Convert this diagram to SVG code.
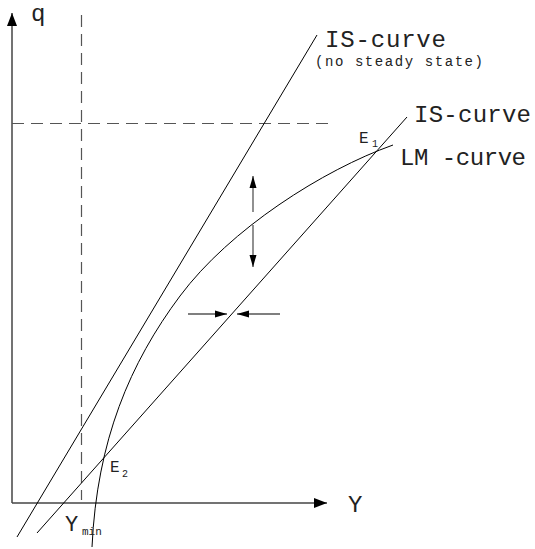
<svg xmlns="http://www.w3.org/2000/svg" width="535" height="549" viewBox="0 0 535 549">
<style>
.ax{stroke:#444;stroke-width:1.5;fill:none}
.dash{stroke:#555;stroke-width:1.2;stroke-dasharray:12 7;fill:none}
.ln{stroke:#000;stroke-width:1;fill:none}
.ar{stroke:#555;stroke-width:1.3;fill:none}
text{font-family:"Liberation Mono","Courier New",monospace;fill:#222}
</style>
<defs>
<marker id="ah" markerWidth="12" markerHeight="8" refX="12" refY="4" orient="auto" markerUnits="userSpaceOnUse"><path d="M0,0.5 L12,4 L0,7.5 Z" fill="#000"/></marker>
<marker id="axh" markerWidth="13" markerHeight="10" refX="13" refY="5" orient="auto" markerUnits="userSpaceOnUse"><path d="M0,0 L13,5 L0,10 Z" fill="#000"/></marker>
</defs>
<g id="axes">
<line class="ax" x1="12" y1="503" x2="12" y2="13" marker-end="url(#axh)"/>
<line class="ax" x1="12" y1="503" x2="327" y2="503" marker-end="url(#axh)"/>
</g>
<g id="guides">
<line class="dash" x1="81.5" y1="15" x2="81.5" y2="500"/>
<line class="dash" x1="12" y1="123.5" x2="330" y2="123.5"/>
</g>
<g id="connectors">
<line class="ln" x1="317" y1="35" x2="17" y2="537"/>
<line class="ln" x1="407" y1="117" x2="37" y2="533"/>
<path class="ln" d="M92,547 C97,440 130,363 180,296 C230,229 323,170 393,145"/>
<line class="ar" x1="253" y1="212" x2="253" y2="176" marker-end="url(#ah)"/>
<line class="ar" x1="253" y1="225" x2="253" y2="267" marker-end="url(#ah)"/>
<line class="ar" x1="188" y1="314" x2="227" y2="314" marker-end="url(#ah)"/>
<line class="ar" x1="280" y1="314" x2="237" y2="314" marker-end="url(#ah)"/>
</g>
<g id="labels">
<text x="31" y="21" font-size="24">q</text>
<text x="348" y="512" font-size="24">Y</text>
<text x="325" y="47" font-size="24" textLength="121">IS-curve</text>
<text x="315" y="66" font-size="14" textLength="168">(no steady state)</text>
<text x="414" y="122" font-size="24" textLength="117">IS-curve</text>
<text x="400" y="165" font-size="24" textLength="126">LM -curve</text>
<text x="359" y="143" font-size="16">E</text>
<text x="372" y="147" font-size="10">1</text>
<text x="110" y="472" font-size="16">E</text>
<text x="122" y="477" font-size="10">2</text>
<text x="65" y="531" font-size="22">Y</text>
<text x="82" y="535" font-size="11">min</text>
</g>
</svg>
